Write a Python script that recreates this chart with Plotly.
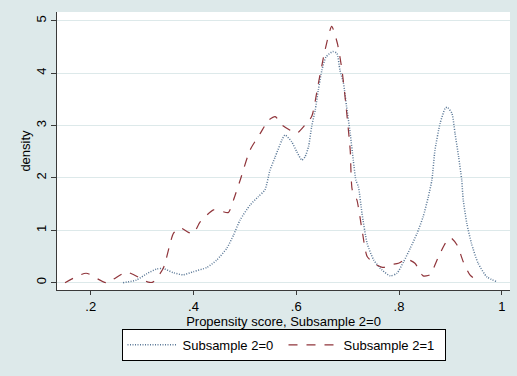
import plotly.graph_objects as go

# Kernel density estimates of the propensity score, by subsample
x_s0 = [0.263, 0.289, 0.309, 0.328, 0.341, 0.361, 0.380, 0.400, 0.426, 0.445, 0.465, 0.478,
        0.491, 0.510, 0.526, 0.539, 0.549, 0.559, 0.572, 0.578, 0.591, 0.601, 0.611, 0.617,
        0.624, 0.630, 0.637, 0.643, 0.650, 0.658, 0.671, 0.679, 0.685, 0.692, 0.698, 0.705,
        0.711, 0.716, 0.721, 0.728, 0.738, 0.751, 0.767, 0.783, 0.796, 0.809, 0.822, 0.835,
        0.847, 0.857, 0.864, 0.870, 0.880, 0.890, 0.894, 0.903, 0.909, 0.916, 0.922, 0.925,
        0.932, 0.941, 0.954, 0.971, 0.990]
y_s0 = [0.00, 0.05, 0.17, 0.26, 0.27, 0.19, 0.15, 0.21, 0.29, 0.43, 0.66, 0.91,
        1.20, 1.48, 1.64, 1.77, 2.15, 2.40, 2.72, 2.82, 2.69, 2.50, 2.34, 2.40,
        2.60, 2.98, 3.30, 3.68, 4.06, 4.31, 4.41, 4.38, 4.06, 3.80, 3.36, 2.85,
        2.34, 1.96, 1.83, 1.32, 0.75, 0.43, 0.24, 0.13, 0.18, 0.40, 0.66, 0.94,
        1.26, 1.64, 1.96, 2.53, 3.04, 3.33, 3.35, 3.23, 2.85, 2.40, 1.96, 1.58,
        1.13, 0.75, 0.37, 0.11, 0.02]

x_s1 = [0.150, 0.191, 0.230, 0.270, 0.312, 0.321, 0.341, 0.361, 0.374, 0.390, 0.400, 0.413,
        0.439, 0.452, 0.468, 0.478, 0.491, 0.510, 0.530, 0.546, 0.559, 0.572, 0.588, 0.601,
        0.617, 0.630, 0.643, 0.656, 0.669, 0.680, 0.689, 0.697, 0.705, 0.709, 0.718, 0.728,
        0.738, 0.754, 0.770, 0.783, 0.799, 0.815, 0.831, 0.847, 0.860, 0.877, 0.890, 0.900,
        0.913, 0.925, 0.938, 0.954]
y_s1 = [0.00, 0.18, 0.00, 0.20, 0.01, 0.01, 0.27, 0.94, 1.05, 0.96, 0.94, 1.16,
        1.39, 1.37, 1.34, 1.58, 1.96, 2.53, 2.85, 3.10, 3.17, 3.01, 2.91, 2.85,
        3.01, 3.17, 3.80, 4.44, 4.89, 4.57, 4.06, 3.36, 2.53, 1.77, 1.58, 1.01,
        0.50, 0.35, 0.29, 0.34, 0.37, 0.45, 0.37, 0.13, 0.15, 0.50, 0.75, 0.86,
        0.72, 0.40, 0.15, 0.02]

x_tickvals = [0.2, 0.4, 0.6, 0.8, 1.0]
x_ticktext = [".2", ".4", ".6", ".8", "1"]
y_tickvals = [0, 1, 2, 3, 4, 5]

BG = "#DDE9EA"
AXIS = "#3a3a3a"

fig = go.Figure()
fig.add_trace(go.Scatter(
    x=x_s0, y=y_s0, mode="lines", name="Subsample 2=0",
    line=dict(color="#5a7897", width=1.5, dash="1px,1.5px", shape="spline", smoothing=0.6),
))
fig.add_trace(go.Scatter(
    x=x_s1, y=y_s1, mode="lines", name="Subsample 2=1",
    line=dict(color="#90353B", width=1.2, dash="dash", shape="spline", smoothing=0.6),
))

fig.update_layout(
    width=517, height=376,
    margin=dict(l=57, r=7, t=12, b=86),
    paper_bgcolor=BG, plot_bgcolor="white",
    font=dict(family="Liberation Sans, Arial, sans-serif", size=12, color="black"),
    showlegend=True,
    legend=dict(
        orientation="h", x=0.5, xanchor="center", y=-0.14, yanchor="top",
        bgcolor="white", bordercolor="black", borderwidth=1,
        font=dict(size=13), entrywidth=96, itemwidth=50,
    ),
    xaxis=dict(
        range=[0.1344, 1.016], tickvals=x_tickvals, ticktext=x_ticktext,
        showgrid=False, zeroline=False, showline=True, linecolor=AXIS, linewidth=1,
        ticks="outside", ticklen=4, tickcolor=AXIS, tickfont=dict(size=13),
        title=dict(text="Propensity score, Subsample 2=0", font=dict(size=13), standoff=0),
    ),
    yaxis=dict(
        range=[-0.14, 5.166], tickvals=y_tickvals,
        showgrid=True, gridcolor=BG, gridwidth=1.2, zeroline=False,
        showline=True, linecolor=AXIS, linewidth=1,
        ticks="outside", ticklen=5, tickcolor=AXIS, tickangle=-90, tickfont=dict(size=13),
        title=dict(text="density", font=dict(size=13), standoff=0),
    ),
)

fig.write_html("out.html")
